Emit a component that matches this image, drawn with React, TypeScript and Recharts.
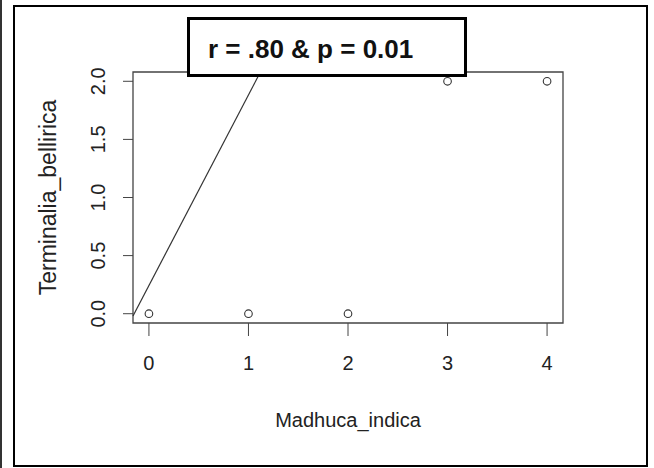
import React from 'react';
import { ScatterChart, Scatter, XAxis, YAxis, ReferenceArea, ReferenceLine } from 'recharts';

// observed points
const xValues = [0, 1, 2, 3, 4];
const yValues = [0, 0, 0, 2, 2];

// axes
const xTicks = [0, 1, 2, 3, 4];
const yTicks = [0, 0.5, 1, 1.5, 2];
const xDomain: [number, number] = [-0.16, 4.16];
const yDomain: [number, number] = [-0.08, 2.08];

// fitted line (clipped to the plot box)
const fitStart = { x: -0.16, y: -0.02 };
const fitEnd = { x: 1.12, y: 2.08 };

const statText = 'r = .80 & p = 0.01';
const xTitle = 'Madhuca_indica';
const yTitle = 'Terminalia_bellirica';

const points = xValues.map((x, i) => ({ x, y: yValues[i] }));

const AXIS = '#444';
const INK = '#222';

// R draws y tick labels rotated, reading bottom to top
const YTick = (props: any) => {
  const { x, y, payload } = props;
  return (
    <text
      x={x}
      y={y}
      transform={`rotate(-90, ${x}, ${y})`}
      textAnchor="middle"
      fontSize={20}
      fill={INK}
    >
      {Number(payload.value).toFixed(1)}
    </text>
  );
};

const OpenCircle = (props: any) => (
  <circle cx={props.cx} cy={props.cy} r={3.8} fill="#fff" stroke="#333" strokeWidth={1.1} />
);

export default function App() {
  return (
    <div
      style={{
        position: 'absolute', left: 0, top: 0, width: 654, height: 468,
        background: '#fff', fontFamily: '"Liberation Sans", Arial, sans-serif',
      }}
    >
      <div style={{ position: 'absolute', left: 0, top: 0, width: 2, height: 468, background: '#333' }} />
      <div
        style={{
          position: 'absolute', left: 13, top: 5, width: 635, height: 462,
          border: '2px solid #000', boxSizing: 'border-box',
        }}
      />
      <div style={{ position: 'absolute', left: 0, top: 0 }}>
        <ScatterChart width={654} height={468} margin={{ top: 72, right: 91, bottom: 25, left: 0 }}>
          <XAxis
            type="number"
            dataKey="x"
            domain={xDomain}
            ticks={xTicks}
            allowDataOverflow
            axisLine={false}
            tickLine={{ stroke: AXIS }}
            tickSize={13}
            tickMargin={20}
            height={120}
            tick={{ fontSize: 20, fill: INK }}
            label={{ value: xTitle, position: 'insideBottom', offset: 16, fontSize: 20, fill: INK }}
          />
          <YAxis
            type="number"
            dataKey="y"
            domain={yDomain}
            ticks={yTicks}
            allowDataOverflow
            axisLine={false}
            tickLine={{ stroke: AXIS }}
            tickSize={10}
            tickMargin={18}
            width={133}
            tick={<YTick />}
            label={{
              value: yTitle, angle: -90, position: 'insideLeft', offset: 48,
              fontSize: 23, fill: INK, style: { textAnchor: 'middle' },
            }}
          />
          <ReferenceArea
            x1={xDomain[0]} x2={xDomain[1]} y1={yDomain[0]} y2={yDomain[1]}
            fill="none" fillOpacity={0} stroke={AXIS} strokeWidth={1.3}
          />
          <ReferenceLine segment={[fitStart, fitEnd]} stroke="#333" strokeWidth={1.2} />
          <Scatter data={points} shape={<OpenCircle />} isAnimationActive={false} />
        </ScatterChart>
      </div>
      <div
        style={{
          position: 'absolute', left: 187, top: 17, width: 280, height: 60,
          border: '3px solid #000', boxSizing: 'border-box', background: '#fff',
          display: 'flex', alignItems: 'center', paddingLeft: 18, paddingTop: 4,
          fontWeight: 'bold', fontSize: 26, color: '#111', whiteSpace: 'nowrap',
        }}
      >
        {statText}
      </div>
    </div>
  );
}
